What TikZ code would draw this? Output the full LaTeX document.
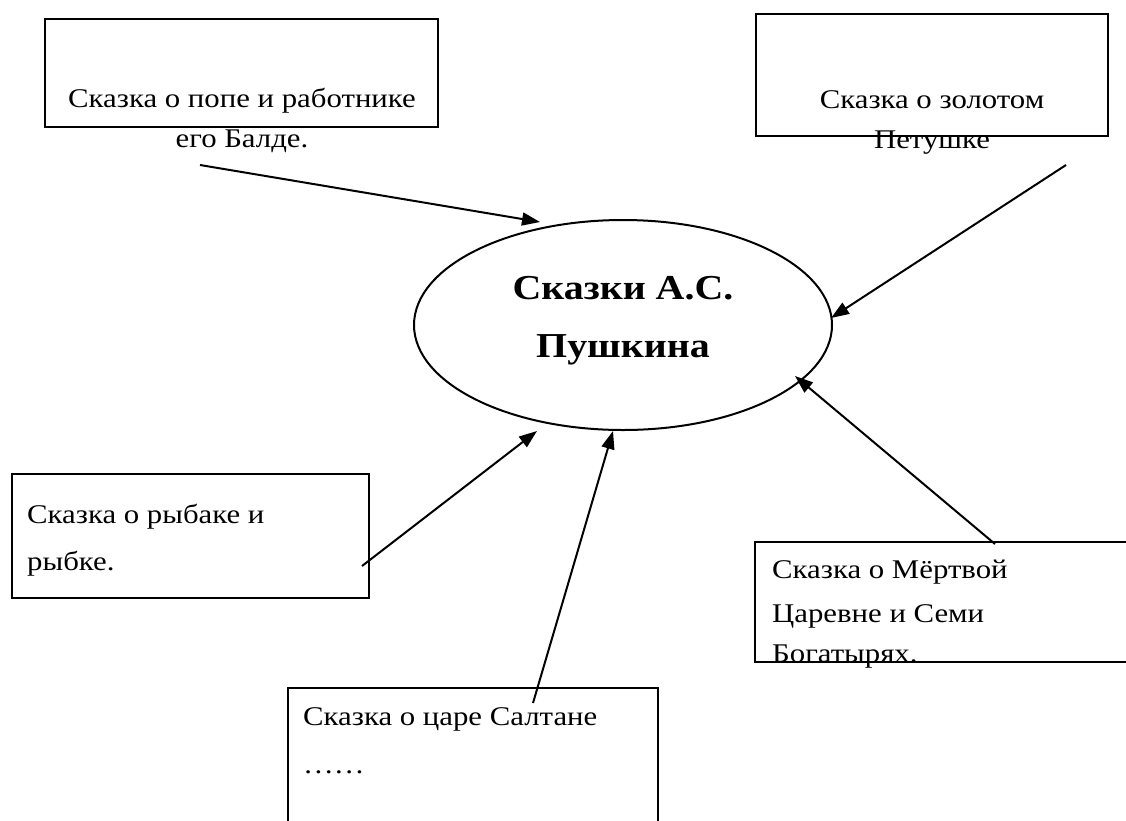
\documentclass[tikz,border=0pt]{standalone}
\usepackage{fontspec}
\setmainfont{Liberation Serif}
\newfontfamily\widefont[FakeStretch=1.14]{Liberation Serif}
\usetikzlibrary{arrows.meta,shapes.geometric}
\begin{document}
\begin{tikzpicture}[x=1pt,y=-1pt,
  boxshape/.style={draw=black,line width=2pt,inner sep=0pt},
  boxtext/.style={inner sep=0pt,font=\widefont\fontsize{27}{27}\selectfont},
  arr/.style={line width=2pt,-{Triangle[length=18pt,width=13pt]}},
  ]
\useasboundingbox[fill=white] (0,0) rectangle (1126,820);
% boxes
\node[boxshape,minimum width=393pt,minimum height=108pt,anchor=north west] (b1) at (44,18) {};
\node[boxshape,minimum width=352pt,minimum height=122pt,anchor=north west] (b2) at (755,13) {};
\node[boxshape,minimum width=357pt,minimum height=124pt,anchor=north west] (b3) at (11,473) {};
\draw[line width=2pt] (1130,542) -- (755,542) coordinate (b4nw) -- (755,662) -- (1130,662);
\draw[line width=2pt] (288,825) -- (288,688) coordinate (b5nw) -- (658,688) -- (658,825);
% texts
\node[boxtext,anchor=base] (t1a) at (242,107) {Сказка о попе и работнике};
\node[boxtext,anchor=base] (t1b) at (242,147) {его Балде.};
\node[boxtext,anchor=base] (t2a) at (932,108) {Сказка о золотом};
\node[boxtext,anchor=base] (t2b) at (932,148) {Петушке};
\node[boxtext,anchor=base west] (t3a) at (27,523) {Сказка о рыбаке и};
\node[boxtext,anchor=base west] (t3b) at (27,570) {рыбке.};
\node[boxtext,anchor=base west] (t4a) at (772,578) {Сказка о Мёртвой};
\node[boxtext,anchor=base west] (t4b) at (772,622) {Царевне и Семи};
\node[boxtext,anchor=base west] (t4c) at (772,662) {Богатырях.};
\node[boxtext,anchor=base west] (t5a) at (303,725) {Сказка о царе Салтане};
\node[boxtext,anchor=base west] (t5b) at (303,773) {……};
% ellipse
\node[draw=black,line width=2pt,ellipse,minimum width=418pt,minimum height=210pt,inner sep=0pt] (e) at (623,325) {};
\node[inner sep=0pt,anchor=base,font=\widefont\fontsize{35}{35}\selectfont\bfseries] (et1) at (623,299) {Сказки А.С.};
\node[inner sep=0pt,anchor=base,font=\widefont\fontsize{35}{35}\selectfont\bfseries] (et2) at (623,357) {Пушкина};
% arrows
\coordinate (s1) at (200,165);
\coordinate (e1) at (540,222);
\coordinate (s2) at (1066,165);
\coordinate (e2) at (831,318);
\coordinate (s3) at (995,544);
\coordinate (e3) at (795,376);
\coordinate (s4) at (362,566);
\coordinate (e4) at (537,431);
\coordinate (s5) at (533,703);
\coordinate (e5) at (613,431);
\draw[arr] (s1) -- (e1);
\draw[arr] (s2) -- (e2);
\draw[arr] (s3) -- (e3);
\draw[arr] (s4) -- (e4);
\draw[arr] (s5) -- (e5);
\end{tikzpicture}
\end{document}
